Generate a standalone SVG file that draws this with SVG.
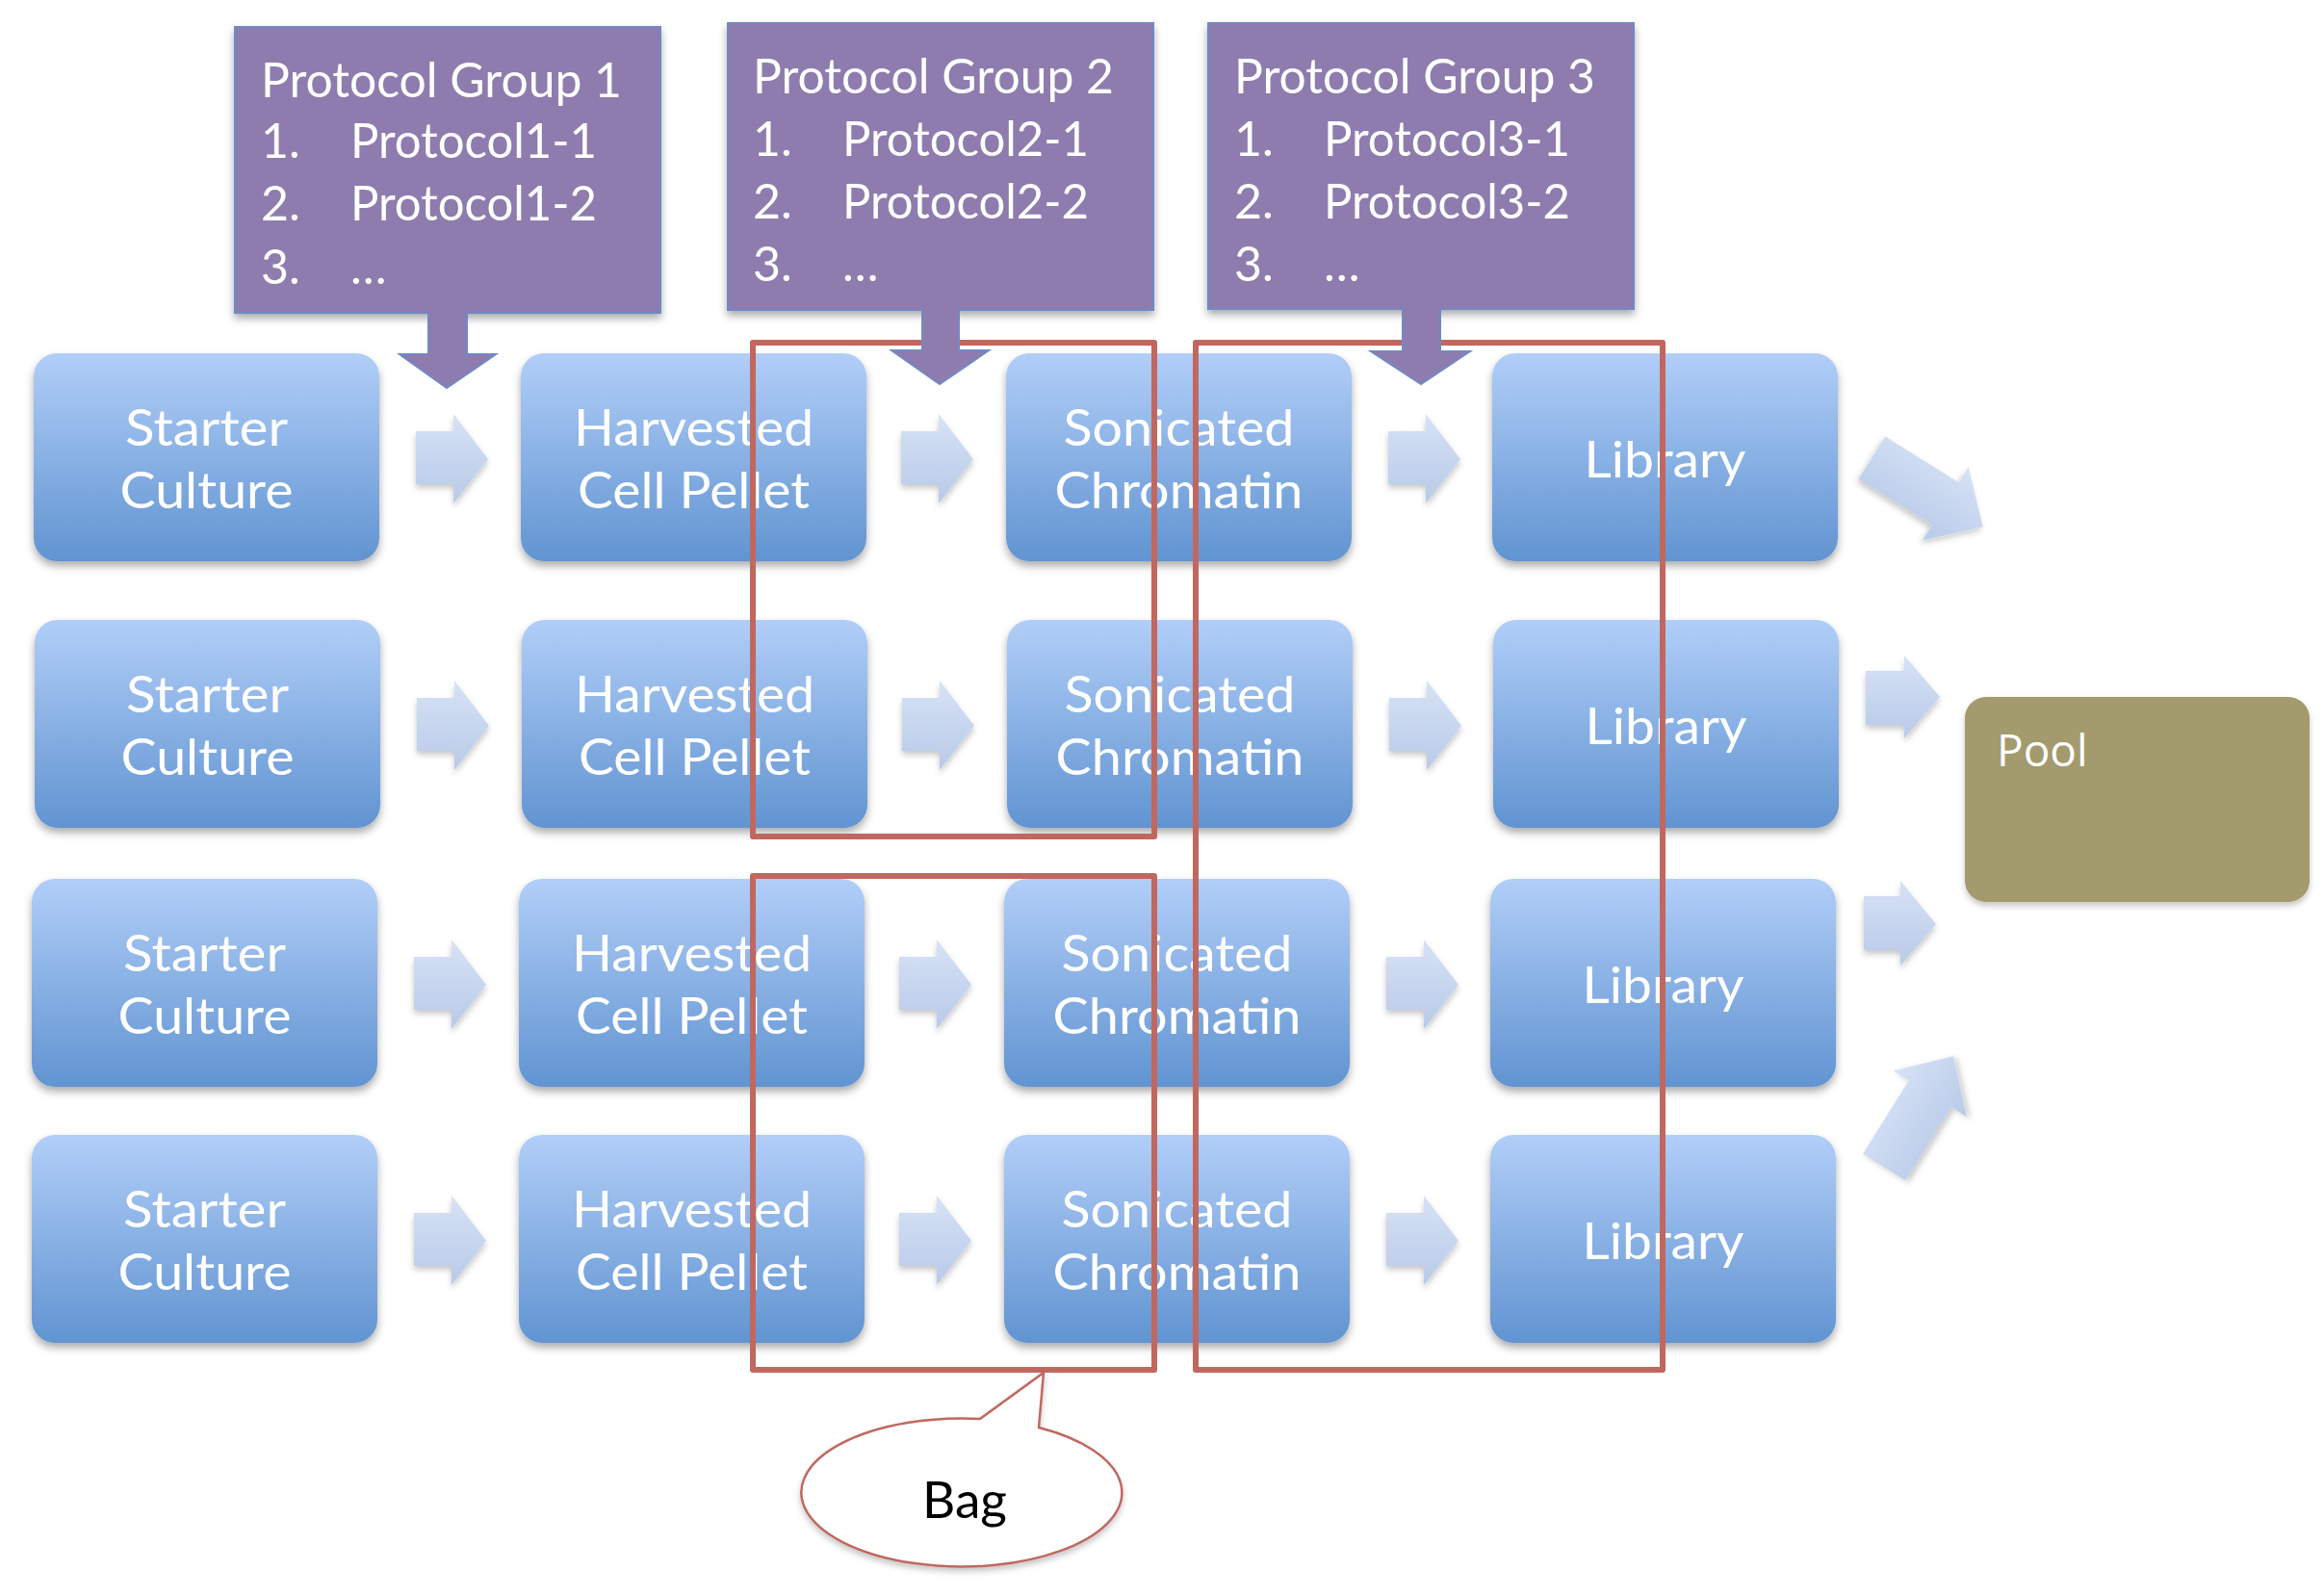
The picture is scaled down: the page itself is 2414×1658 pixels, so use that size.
<svg xmlns="http://www.w3.org/2000/svg" xmlns:xlink="http://www.w3.org/1999/xlink" width="2414" height="1658" viewBox="0 0 2414 1658">
<defs>
<linearGradient id="gBlue" x1="0" y1="0" x2="0" y2="1">
<stop offset="0" stop-color="#B1CEF8"/>
<stop offset="1" stop-color="#6194D1"/>
</linearGradient>
<linearGradient id="gArrow" x1="0" y1="0" x2="0" y2="1">
<stop offset="0" stop-color="#D6E2F6"/>
<stop offset="1" stop-color="#B9CAE8"/>
</linearGradient>
<filter id="sh" x="-10%" y="-10%" width="120%" height="130%">
<feDropShadow dx="0" dy="5" stdDeviation="4" flood-color="#000" flood-opacity="0.33"/>
</filter>
<filter id="shs" x="-20%" y="-20%" width="140%" height="150%">
<feDropShadow dx="0" dy="4" stdDeviation="3" flood-color="#000" flood-opacity="0.22"/>
</filter>
<path id="sarrow" d="M0,-27 H39 V-45 L75,2 L39,48 V28 H0 Z"/>
<style>
.box{fill:url(#gBlue);filter:url(#sh);}
.bt{font-family:Lato,"Open Sans",sans-serif;font-size:53px;fill:#FFFFFF;text-anchor:middle;}
.pg{fill:#8E7CAE;stroke:#7089C4;stroke-width:2;filter:url(#sh);}
.pt{font-family:Lato,"Open Sans",sans-serif;font-size:50px;fill:#FFFFFF;}
.pa{fill:#8E7CAE;}
.pas{fill:none;stroke:#7089C4;stroke-width:2;}
.ar{fill:url(#gArrow);filter:url(#shs);}
.bag{fill:none;stroke:#C0675F;stroke-width:6;stroke-linejoin:round;}
</style>
</defs>
<rect width="2414" height="1658" fill="#FFFFFF"/>

<!-- Row 1 -->
<g id="n-starter-1"><rect class="box" x="35" y="367" width="359" height="216" rx="24"/><text class="bt" x="214.5" y="463" textLength="169" lengthAdjust="spacingAndGlyphs">Starter</text><text class="bt" x="214.5" y="528" textLength="180" lengthAdjust="spacingAndGlyphs">Culture</text></g>
<g id="n-harvested-1"><rect class="box" x="541" y="367" width="359" height="216" rx="24"/><text class="bt" x="720.5" y="463" textLength="249" lengthAdjust="spacingAndGlyphs">Harvested</text><text class="bt" x="720.5" y="528" textLength="241" lengthAdjust="spacingAndGlyphs">Cell Pellet</text></g>
<g id="n-sonicated-1"><rect class="box" x="1045" y="367" width="359" height="216" rx="24"/><text class="bt" x="1224.5" y="463" textLength="240" lengthAdjust="spacingAndGlyphs">Sonicated</text><text class="bt" x="1224.5" y="528" textLength="258" lengthAdjust="spacingAndGlyphs">Chromatin</text></g>
<g id="n-library-1"><rect class="box" x="1550" y="367" width="359" height="216" rx="24"/><text class="bt" x="1729.5" y="496" textLength="168" lengthAdjust="spacingAndGlyphs">Library</text></g>

<!-- Row 2 -->
<g id="n-starter-2"><rect class="box" x="36" y="644" width="359" height="216" rx="24"/><text class="bt" x="215.5" y="740" textLength="169" lengthAdjust="spacingAndGlyphs">Starter</text><text class="bt" x="215.5" y="805" textLength="180" lengthAdjust="spacingAndGlyphs">Culture</text></g>
<g id="n-harvested-2"><rect class="box" x="542" y="644" width="359" height="216" rx="24"/><text class="bt" x="721.5" y="740" textLength="249" lengthAdjust="spacingAndGlyphs">Harvested</text><text class="bt" x="721.5" y="805" textLength="241" lengthAdjust="spacingAndGlyphs">Cell Pellet</text></g>
<g id="n-sonicated-2"><rect class="box" x="1046" y="644" width="359" height="216" rx="24"/><text class="bt" x="1225.5" y="740" textLength="240" lengthAdjust="spacingAndGlyphs">Sonicated</text><text class="bt" x="1225.5" y="805" textLength="258" lengthAdjust="spacingAndGlyphs">Chromatin</text></g>
<g id="n-library-2"><rect class="box" x="1551" y="644" width="359" height="216" rx="24"/><text class="bt" x="1730.5" y="773" textLength="168" lengthAdjust="spacingAndGlyphs">Library</text></g>

<!-- Row 3 -->
<g id="n-starter-3"><rect class="box" x="33" y="913" width="359" height="216" rx="24"/><text class="bt" x="212.5" y="1009" textLength="169" lengthAdjust="spacingAndGlyphs">Starter</text><text class="bt" x="212.5" y="1074" textLength="180" lengthAdjust="spacingAndGlyphs">Culture</text></g>
<g id="n-harvested-3"><rect class="box" x="539" y="913" width="359" height="216" rx="24"/><text class="bt" x="718.5" y="1009" textLength="249" lengthAdjust="spacingAndGlyphs">Harvested</text><text class="bt" x="718.5" y="1074" textLength="241" lengthAdjust="spacingAndGlyphs">Cell Pellet</text></g>
<g id="n-sonicated-3"><rect class="box" x="1043" y="913" width="359" height="216" rx="24"/><text class="bt" x="1222.5" y="1009" textLength="240" lengthAdjust="spacingAndGlyphs">Sonicated</text><text class="bt" x="1222.5" y="1074" textLength="258" lengthAdjust="spacingAndGlyphs">Chromatin</text></g>
<g id="n-library-3"><rect class="box" x="1548" y="913" width="359" height="216" rx="24"/><text class="bt" x="1727.5" y="1042" textLength="168" lengthAdjust="spacingAndGlyphs">Library</text></g>

<!-- Row 4 -->
<g id="n-starter-4"><rect class="box" x="33" y="1179" width="359" height="216" rx="24"/><text class="bt" x="212.5" y="1275" textLength="169" lengthAdjust="spacingAndGlyphs">Starter</text><text class="bt" x="212.5" y="1340" textLength="180" lengthAdjust="spacingAndGlyphs">Culture</text></g>
<g id="n-harvested-4"><rect class="box" x="539" y="1179" width="359" height="216" rx="24"/><text class="bt" x="718.5" y="1275" textLength="249" lengthAdjust="spacingAndGlyphs">Harvested</text><text class="bt" x="718.5" y="1340" textLength="241" lengthAdjust="spacingAndGlyphs">Cell Pellet</text></g>
<g id="n-sonicated-4"><rect class="box" x="1043" y="1179" width="359" height="216" rx="24"/><text class="bt" x="1222.5" y="1275" textLength="240" lengthAdjust="spacingAndGlyphs">Sonicated</text><text class="bt" x="1222.5" y="1340" textLength="258" lengthAdjust="spacingAndGlyphs">Chromatin</text></g>
<g id="n-library-4"><rect class="box" x="1548" y="1179" width="359" height="216" rx="24"/><text class="bt" x="1727.5" y="1308" textLength="168" lengthAdjust="spacingAndGlyphs">Library</text></g>

<!-- Pool -->
<g id="n-pool"><rect x="2041" y="724" width="358" height="213" rx="22" fill="#A39A6D" filter="url(#shs)"/><text x="2074" y="796" font-family="'Open Sans',sans-serif" font-size="46" fill="#FFFFFF">Pool</text></g>

<!-- Connectors (light blue block arrows) -->
<g id="connectors">
<use href="#sarrow" class="ar" x="432" y="475"/>
<use href="#sarrow" class="ar" x="936" y="475"/>
<use href="#sarrow" class="ar" x="1442" y="475"/>
<use href="#sarrow" class="ar" x="433" y="752"/>
<use href="#sarrow" class="ar" x="937" y="752"/>
<use href="#sarrow" class="ar" x="1443" y="752"/>
<use href="#sarrow" class="ar" x="430" y="1021"/>
<use href="#sarrow" class="ar" x="934" y="1021"/>
<use href="#sarrow" class="ar" x="1440" y="1021"/>
<use href="#sarrow" class="ar" x="430" y="1287"/>
<use href="#sarrow" class="ar" x="934" y="1287"/>
<use href="#sarrow" class="ar" x="1440" y="1287"/>
<path class="ar" d="M0,-26 H90 V-45 L136,0 L90,45 V26 H0 Z" transform="translate(1944.5,475.5) rotate(32)"/>
<path class="ar" d="M1938,697 H1978 V681 L2015,724 L1978,767 V753 H1938 Z"/>
<path class="ar" d="M1936,931 H1974 V915 L2011,960 L1974,1003 V987 H1936 Z"/>
<path class="ar" d="M0,-26 H90 V-45 L136,0 L90,45 V26 H0 Z" transform="translate(1957,1212.5) rotate(-58)"/>
</g>

<!-- Bag outlines -->
<g id="bags">
<rect class="bag" x="782" y="356" width="417" height="513"/>
<rect class="bag" x="782" y="910" width="417" height="513"/>
<rect class="bag" x="1242" y="356" width="485" height="1067"/>
</g>

<!-- Protocol groups -->
<g id="n-group-1">
<rect class="pg" x="244" y="28" width="442" height="297"/>
<path class="pa" d="M445,322 H485 V368 H515 L464,403 L415,368 H445 Z"/>
<polyline class="pas" points="445,326 445,368 415,368 464,403 515,368 485,368 485,326"/>
<text class="pt" x="271" y="101" textLength="375" lengthAdjust="spacingAndGlyphs">Protocol Group 1</text>
<text class="pt" x="271" y="164">1.</text><text class="pt" x="364" y="164" textLength="256" lengthAdjust="spacingAndGlyphs">Protocol1-1</text>
<text class="pt" x="271" y="229">2.</text><text class="pt" x="364" y="229" textLength="256" lengthAdjust="spacingAndGlyphs">Protocol1-2</text>
<text class="pt" x="271" y="295">3.</text><text class="pt" x="364" y="295">…</text>
</g>
<g id="n-group-2">
<rect class="pg" x="756" y="24" width="442" height="298"/>
<path class="pa" d="M958,319 H996 V364 H1027 L976,399 L926,364 H958 Z"/>
<polyline class="pas" points="958,323 958,364 926,364 976,399 1027,364 996,364 996,323"/>
<text class="pt" x="782" y="97" textLength="375" lengthAdjust="spacingAndGlyphs">Protocol Group 2</text>
<text class="pt" x="782" y="162">1.</text><text class="pt" x="875" y="162" textLength="256" lengthAdjust="spacingAndGlyphs">Protocol2-1</text>
<text class="pt" x="782" y="227">2.</text><text class="pt" x="875" y="227" textLength="256" lengthAdjust="spacingAndGlyphs">Protocol2-2</text>
<text class="pt" x="782" y="292">3.</text><text class="pt" x="875" y="292">…</text>
</g>
<g id="n-group-3">
<rect class="pg" x="1255" y="24" width="442" height="297"/>
<path class="pa" d="M1457,318 H1496 V365 H1527 L1476,399 L1424,365 H1457 Z"/>
<polyline class="pas" points="1457,322 1457,365 1424,365 1476,399 1527,365 1496,365 1496,322"/>
<text class="pt" x="1282" y="97" textLength="375" lengthAdjust="spacingAndGlyphs">Protocol Group 3</text>
<text class="pt" x="1282" y="162">1.</text><text class="pt" x="1375" y="162" textLength="256" lengthAdjust="spacingAndGlyphs">Protocol3-1</text>
<text class="pt" x="1282" y="227">2.</text><text class="pt" x="1375" y="227" textLength="256" lengthAdjust="spacingAndGlyphs">Protocol3-2</text>
<text class="pt" x="1282" y="292">3.</text><text class="pt" x="1375" y="292">…</text>
</g>

<!-- Bag callout -->
<g id="n-bag">
<path d="M1018,1474 L1084,1426 L1079,1483 A166.5,77 0 1 1 1018,1474 Z" fill="#FFFFFF" stroke="#C0675F" stroke-width="2.5" stroke-linejoin="miter" filter="url(#shs)"/>
<text x="1002" y="1577" font-family="Lato,'Open Sans',sans-serif" font-size="53" fill="#000000" text-anchor="middle" textLength="88" lengthAdjust="spacingAndGlyphs">Bag</text>
</g>
</svg>
